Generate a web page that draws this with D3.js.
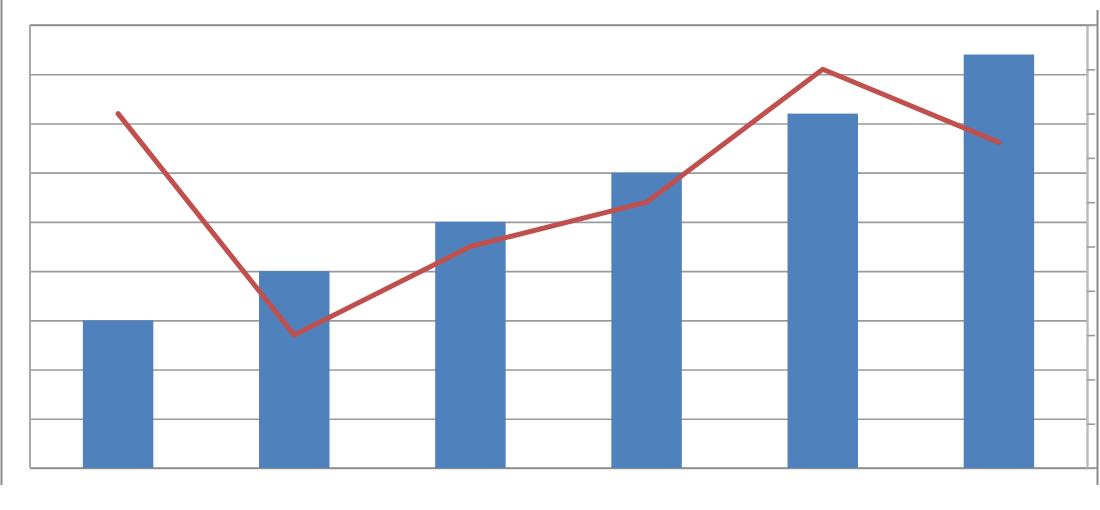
<!DOCTYPE html>
<html>
<head>
<meta charset="utf-8">
<script src="https://cdn.jsdelivr.net/npm/d3@7"></script>
<style>
  html, body { margin: 0; padding: 0; background: #fff; }
  svg { display: block; }
</style>
</head>
<body>
<svg id="chart" width="1100" height="510"></svg>
<script>
const categories = ["A", "B", "C", "D", "E", "F"];
const barValues = [3, 4, 5, 6, 7.2, 8.4];
const lineValues = [8, 3, 5, 6, 9, 7.35];
const leftTicks = [0, 1, 2, 3, 4, 5, 6, 7, 8, 9];
const rightTicks = [0, 1, 2, 3, 4, 5, 6, 7, 8, 9, 10];

(function () {
const svg = d3.select("#chart");
const pl = 30, pr = 1087, pt = 25, pb = 468;

const x = d3.scaleBand().domain(categories).range([pl, pr])
  .paddingInner(0.6).paddingOuter(0.3);
const xc = d3.scaleBand().domain(categories).range([pl, pr]);
const yL = d3.scaleLinear().domain([0, 9]).range([pb, pt]);
const yR = d3.scaleLinear().domain([0, 10]).range([pb, pt]);

// outer frame lines
svg.append("line").attr("x1", 1.5).attr("x2", 1.5).attr("y1", 0).attr("y2", 485)
  .attr("stroke", "#8a8a8a").attr("stroke-width", 2);
svg.append("line").attr("x1", 1097.5).attr("x2", 1097.5).attr("y1", 10).attr("y2", 485)
  .attr("stroke", "#8a8a8a").attr("stroke-width", 2);

// gridlines via left axis
const gGrid = svg.append("g").attr("transform", `translate(${pl},0)`)
  .call(d3.axisLeft(yL).tickValues(leftTicks).tickSize(-(pr - pl)).tickFormat(""));
gGrid.select(".domain").remove();
gGrid.selectAll(".tick line").attr("stroke", "#9a9a9a").attr("stroke-width", 1.6);

// top and bottom extended lines
[yL(9), yL(0)].forEach(yy => {
  svg.append("line").attr("x1", pl).attr("x2", 1097).attr("y1", yy).attr("y2", yy)
    .attr("stroke", "#8a8a8a").attr("stroke-width", 1.6);
});

// left axis line
svg.append("line").attr("x1", pl).attr("x2", pl).attr("y1", pt).attr("y2", pb)
  .attr("stroke", "#a8a8a8").attr("stroke-width", 2);

// bars
svg.append("g").selectAll("rect").data(barValues).join("rect")
  .attr("x", (d, i) => x(categories[i]))
  .attr("width", x.bandwidth())
  .attr("y", d => yL(d))
  .attr("height", d => yL(0) - yL(d))
  .attr("fill", "#4f81bd");

// right axis
const gR = svg.append("g").attr("transform", `translate(${pr},0)`)
  .call(d3.axisRight(yR).tickValues(rightTicks).tickSize(8).tickSizeOuter(0).tickFormat(""));
gR.select(".domain").attr("stroke", "#bcbcbc").attr("stroke-width", 2.5);
gR.selectAll(".tick line").attr("stroke", "#999").attr("stroke-width", 1.6);

// line
const line = d3.line()
  .x((d, i) => xc(categories[i]) + xc.bandwidth() / 2)
  .y(d => yR(d));
svg.append("path").datum(lineValues)
  .attr("d", line)
  .attr("fill", "none")
  .attr("stroke", "#c0504d")
  .attr("stroke-width", 5)
  .attr("stroke-linejoin", "round")
  .attr("stroke-linecap", "round");
})();
</script>
</body>
</html>
